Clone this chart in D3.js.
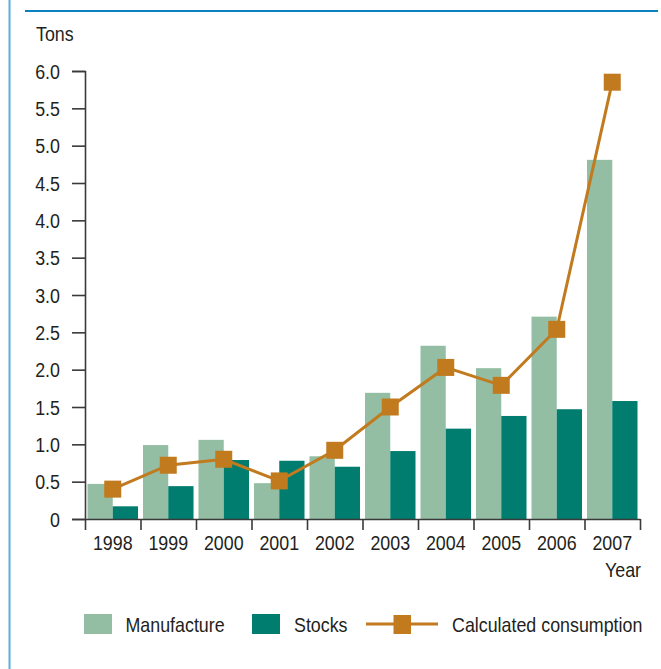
<!DOCTYPE html>
<html>
<head>
<meta charset="utf-8">
<script src="https://cdn.jsdelivr.net/npm/d3@7"></script>
<style>
  html, body { margin: 0; padding: 0; background: #fff; }
  svg { display: block; }
  text { font-family: "Liberation Sans", Arial, sans-serif; fill: #231f20; font-size: 21px; }
</style>
</head>
<body>
<svg id="chart" width="661" height="669"></svg>
<script>
const years = ["1998","1999","2000","2001","2002","2003","2004","2005","2006","2007"];
const manufacture = [0.47, 0.99, 1.06, 0.48, 0.84, 1.69, 2.32, 2.02, 2.71, 4.81];
const stocks      = [0.17, 0.44, 0.79, 0.78, 0.70, 0.91, 1.21, 1.38, 1.47, 1.58];
const consumption = [0.40, 0.72, 0.80, 0.51, 0.92, 1.50, 2.03, 1.79, 2.54, 5.85];
const yTicks = [0, 0.5, 1.0, 1.5, 2.0, 2.5, 3.0, 3.5, 4.0, 4.5, 5.0, 5.5, 6.0];
const seriesNames = ["Manufacture", "Stocks", "Calculated consumption"];

const C_MAN = "#93bea3", C_STK = "#007d6e", C_CON = "#c27a1f";
const SX = 0.85; // condensed look
const svg = d3.select("#chart");

function addText(parent, x, y, str, anchor) {
  return parent.append("text")
    .attr("transform", `translate(${x},${y}) scale(${SX},1)`)
    .attr("text-anchor", anchor || "start")
    .text(str);
}

// frame decorations
svg.append("rect").attr("x", 8.5).attr("y", 0).attr("width", 2).attr("height", 669).attr("fill", "#5aaedc");
svg.append("rect").attr("x", 25).attr("y", 10).attr("width", 633).attr("height", 2).attr("fill", "#0a80c0");

const x0 = 85, x1 = 640, yTop = 71, yBot = 519;
const x = d3.scaleBand().domain(years).range([x0, x1]).paddingInner(0.09).paddingOuter(0.045);
const xs = d3.scaleBand().domain(["m","s"]).range([0, x.bandwidth()]);
const y = d3.scaleLinear().domain([0, 6]).range([yBot, yTop]);

// bars
const g = svg.append("g");
years.forEach((yr, i) => {
  g.append("rect").attr("x", x(yr) + xs("m")).attr("y", y(manufacture[i]))
    .attr("width", xs.bandwidth()).attr("height", y(0) - y(manufacture[i])).attr("fill", C_MAN);
  g.append("rect").attr("x", x(yr) + xs("s")).attr("y", y(stocks[i]))
    .attr("width", xs.bandwidth()).attr("height", y(0) - y(stocks[i])).attr("fill", C_STK);
});

// y axis
const yAxis = d3.axisLeft(y).tickValues(yTicks).tickSize(13).tickSizeOuter(13).tickFormat("");
const ya = svg.append("g").attr("transform", `translate(${x0},0)`).call(yAxis);
ya.selectAll("path, line").attr("stroke", "#3a3a3a").attr("stroke-width", 1.6);
const yl = svg.append("g");
yTicks.forEach(t => addText(yl, 60, y(t) + 7.5, t === 0 ? "0" : d3.format(".1f")(t), "end"));

// x axis (boundary ticks)
const xi = d3.scaleLinear().domain([0, years.length]).range([x0, x1]);
const xAxis = d3.axisBottom(xi).tickValues(d3.range(years.length + 1)).tickSize(11).tickSizeOuter(0).tickFormat("");
const xa = svg.append("g").attr("transform", `translate(0,${yBot})`).call(xAxis);
xa.selectAll("path, line").attr("stroke", "#3a3a3a").attr("stroke-width", 1.6);
const xl = svg.append("g");
years.forEach(yr => addText(xl, x(yr) + x.bandwidth() / 2, 549.5, yr, "middle"));

// line + markers
const line = d3.line().x((d, i) => x(years[i]) + x.bandwidth() / 2).y(d => y(d));
svg.append("path").datum(consumption).attr("d", line).attr("fill", "none")
  .attr("stroke", C_CON).attr("stroke-width", 3);
svg.append("g").selectAll("rect").data(consumption).join("rect")
  .attr("x", (d, i) => x(years[i]) + x.bandwidth() / 2 - 8.5).attr("y", d => y(d) - 8.5)
  .attr("width", 17).attr("height", 17).attr("fill", C_CON);

// axis titles
addText(svg, 36, 41, "Tons");
addText(svg, 641, 576.5, "Year", "end");

// legend
const ly = 624;
svg.append("rect").attr("x", 84).attr("y", 614).attr("width", 28).attr("height", 20).attr("fill", C_MAN);
addText(svg, 125.5, ly + 8, seriesNames[0]);
svg.append("rect").attr("x", 252).attr("y", 614).attr("width", 28).attr("height", 20).attr("fill", C_STK);
addText(svg, 294, ly + 8, seriesNames[1]);
svg.append("line").attr("x1", 366).attr("x2", 438).attr("y1", ly).attr("y2", ly).attr("stroke", C_CON).attr("stroke-width", 3);
svg.append("rect").attr("x", 393.5).attr("y", 615).attr("width", 17.5).attr("height", 19).attr("fill", C_CON);
addText(svg, 452, ly + 8, seriesNames[2]);
</script>
</body>
</html>
